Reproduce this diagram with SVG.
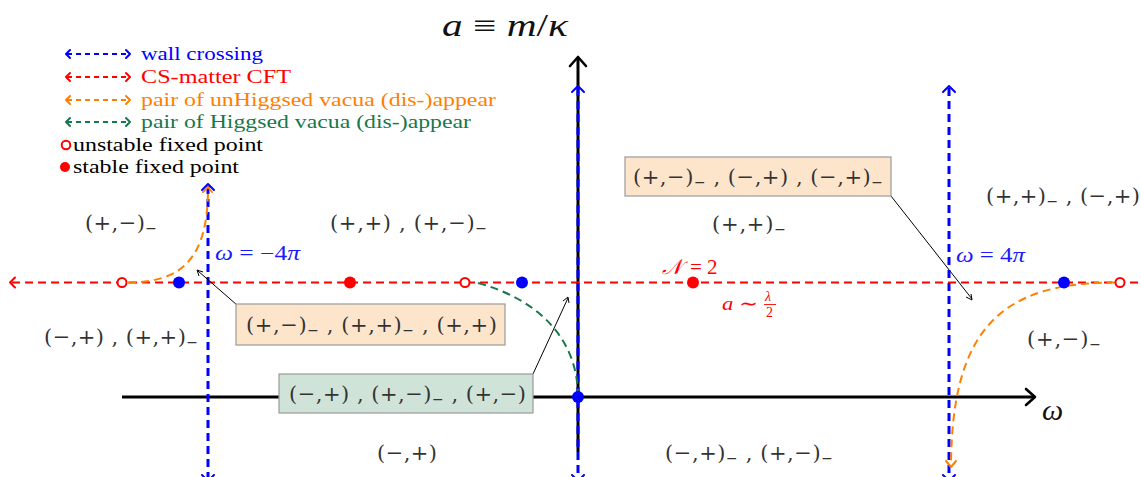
<svg xmlns="http://www.w3.org/2000/svg" width="1141" height="477" viewBox="0 0 1141 477">
<style>
.t{font-family:"Liberation Serif","DejaVu Serif",serif}
.m{font-family:"DejaVu Serif","Liberation Serif",serif}
.leg{font-size:19px}
.reg{font-size:21px;fill:#333}
.box{font-size:21px;fill:#333}
.it{font-style:italic}
.blue{stroke:#0000ff}
.red{stroke:#ff0000}
.org{stroke:#ff8000}
.grn{stroke:#17784a}
.dash{fill:none;stroke-dasharray:8 5}
.head{fill:none;stroke-width:2;stroke-linecap:round;stroke-linejoin:round}
</style>
<rect width="1141" height="477" fill="#fff"/>

<g id="legend">
  <g stroke-width="2" fill="none">
    <line x1="67" y1="54" x2="128" y2="54" class="blue" stroke-dasharray="5 4"/>
    <path d="M70 50 L66 54 L70 58 M126 50 L130 54 L126 58" class="blue head" stroke-width="1.8"/>
    <line x1="67" y1="77" x2="128" y2="77" class="red" stroke-dasharray="5 4"/>
    <path d="M70 73 L66 77 L70 81 M126 73 L130 77 L126 81" class="red head" stroke-width="1.8"/>
    <line x1="67" y1="100" x2="128" y2="100" class="org" stroke-dasharray="5 4"/>
    <path d="M70 96 L66 100 L70 104 M126 96 L130 100 L126 104" class="org head" stroke-width="1.8"/>
    <line x1="67" y1="122" x2="128" y2="122" class="grn" stroke-dasharray="5 4"/>
    <path d="M70 118 L66 122 L70 126 M126 118 L130 122 L126 126" class="grn head" stroke-width="1.8"/>
  </g>
  <text class="t leg" x="141" y="60" fill="#0000ff" textLength="122" lengthAdjust="spacingAndGlyphs">wall crossing</text>
  <text class="t leg" x="141" y="83" fill="#ff0000" textLength="150" lengthAdjust="spacingAndGlyphs">CS-matter CFT</text>
  <text class="t leg" x="141" y="106" fill="#ff8000" textLength="355" lengthAdjust="spacingAndGlyphs">pair of unHiggsed vacua (dis-)appear</text>
  <text class="t leg" x="141" y="128" fill="#17784a" textLength="330" lengthAdjust="spacingAndGlyphs">pair of Higgsed vacua (dis-)appear</text>
  <circle cx="66" cy="145" r="4.3" fill="none" stroke="#ff0000" stroke-width="2"/>
  <text class="t leg" x="73" y="151" fill="#000" textLength="190" lengthAdjust="spacingAndGlyphs">unstable fixed point</text>
  <circle cx="65" cy="167" r="5" fill="#ff0000"/>
  <text class="t leg" x="73" y="173" fill="#000" textLength="166" lengthAdjust="spacingAndGlyphs">stable fixed point</text>
</g>

<g id="axes">
  <line x1="122" y1="397" x2="1034" y2="397" stroke="#000" stroke-width="3"/>
  <path d="M1026 389 L1035 397 L1026 405" fill="none" stroke="#000" stroke-width="2.6" stroke-linecap="round" stroke-linejoin="round"/>
  <line x1="578" y1="452" x2="578" y2="58" stroke="#000" stroke-width="3"/>
  <path d="M570 66 L578 57 L586 66" fill="none" stroke="#000" stroke-width="2.6" stroke-linecap="round" stroke-linejoin="round"/>
  <text class="t" x="442" y="36" font-size="31" fill="#111" textLength="126" lengthAdjust="spacingAndGlyphs"><tspan class="it">a</tspan> ≡ <tspan class="it">m</tspan>/<tspan class="it">κ</tspan></text>
  <text class="t it" x="1042" y="420" font-size="30" fill="#111">ω</text>
</g>

<g id="connectors">
  <line x1="12" y1="282.5" x2="1141" y2="282.5" class="red dash" stroke-width="2"/>
  <path d="M15 277.5 L10 282.5 L15 287.5" class="red head"/>
  <line x1="208" y1="186" x2="208" y2="480" class="blue dash" stroke-width="3"/>
  <path d="M202 190 L208 184 L214 190" class="blue head" stroke-width="2.4"/>
  <path d="M202 475 L208 481 L214 475" class="blue head" stroke-width="2.4"/>
  <line x1="578" y1="88" x2="578" y2="480" class="blue dash" stroke-width="3"/>
  <path d="M572 92 L578 86 L584 92" class="blue head" stroke-width="2.4"/>
  <path d="M572 475 L578 481 L584 475" class="blue head" stroke-width="2.4"/>
  <line x1="949" y1="88" x2="949" y2="480" class="blue dash" stroke-width="3"/>
  <path d="M943 92 L949 86 L955 92" class="blue head" stroke-width="2.4"/>
  <path d="M943 475 L949 481 L955 475" class="blue head" stroke-width="2.4"/>
  <path d="M128 282.5 C185 282.5 208 255 208 188" class="org dash" stroke-width="2"/>
  <path d="M203 192 L208 187 L212 192" class="org head" stroke-width="1.6"/>
  <path d="M1115 282.5 C1000 282.5 952 330 951 465" class="org dash" stroke-width="2"/>
  <path d="M946 461 L951 467 L956 461" class="org head" stroke-width="1.6"/>
  <path d="M478 283 C540 300 578 340 578 397" class="grn dash" stroke-width="2"/>
  <g stroke="#000" stroke-width="1" fill="none">
    <line x1="237" y1="305" x2="198" y2="271"/>
    <path d="M199 276 L197 270 L203 272"/>
    <line x1="533" y1="374" x2="568" y2="298"/>
    <path d="M563 301 L568 297 L569 303"/>
    <line x1="891" y1="196" x2="972" y2="299"/>
    <path d="M966 297 L972 300 L971 294"/>
  </g>
</g>

<g id="points">
  <circle cx="122" cy="282.5" r="4.5" fill="#fff" stroke="#ff0000" stroke-width="2"/>
  <circle cx="465" cy="282.5" r="4.5" fill="#fff" stroke="#ff0000" stroke-width="2"/>
  <circle cx="1120" cy="282.5" r="4.5" fill="#fff" stroke="#ff0000" stroke-width="2"/>
  <circle cx="179" cy="282.5" r="6" fill="#0000ff"/>
  <circle cx="522" cy="282.5" r="6" fill="#0000ff"/>
  <circle cx="1064" cy="282.5" r="6" fill="#0000ff"/>
  <circle cx="578" cy="397" r="6" fill="#0000ff"/>
  <circle cx="350" cy="282.5" r="6" fill="#ff0000"/>
  <circle cx="693" cy="282.5" r="6" fill="#ff0000"/>
</g>

<g id="labels">
  <text class="t" x="215" y="260" font-size="20" fill="#1a1aff" textLength="85" lengthAdjust="spacingAndGlyphs"><tspan class="it">ω</tspan> = −4<tspan class="it">π</tspan></text>
  <text class="t" x="956" y="262" font-size="20" fill="#1a1aff" textLength="69" lengthAdjust="spacingAndGlyphs"><tspan class="it">ω</tspan> = 4<tspan class="it">π</tspan></text>
  <text class="t" x="662" y="274" font-size="21" fill="#ff0000"><tspan class="it">𝒩</tspan><tspan x="690">= 2</tspan></text>
  <text class="t" x="722" y="310" font-size="19" fill="#ff0000" textLength="36" lengthAdjust="spacingAndGlyphs"><tspan class="it">a</tspan> ∼</text>
  <text class="t it" x="765" y="301" font-size="14" fill="#ff0000">λ</text>
  <line x1="764" y1="304.5" x2="776" y2="304.5" stroke="#ff0000" stroke-width="0.9"/>
  <text class="t" x="766" y="317" font-size="14" fill="#ff0000">2</text>
</g>

<g id="regions">
  <text class="m reg" x="85" y="230" textLength="72">(+,−)<tspan font-size="14" dy="3">−</tspan></text>
  <text class="m reg" x="330" y="230" textLength="157">(+,+) , (+,−)<tspan font-size="14" dy="3">−</tspan></text>
  <text class="m reg" x="712" y="231" textLength="74">(+,+)<tspan font-size="14" dy="3">−</tspan></text>
  <text class="m reg" x="986" y="203" textLength="154">(+,+)<tspan font-size="14" dy="3">−</tspan><tspan dy="-3"> , (−,+)</tspan></text>
  <text class="m reg" x="44" y="344" textLength="154">(−,+) , (+,+)<tspan font-size="14" dy="3">−</tspan></text>
  <text class="m reg" x="1027" y="346" textLength="74">(+,−)<tspan font-size="14" dy="3">−</tspan></text>
  <text class="m reg" x="377" y="460" textLength="60">(−,+)</text>
  <text class="m reg" x="665" y="460" textLength="168">(−,+)<tspan font-size="14" dy="3">−</tspan><tspan dy="-3"> , (+,−)</tspan><tspan font-size="14" dy="3">−</tspan></text>
</g>

<g id="box1">
  <rect x="236" y="304" width="269" height="41" fill="#fde5cc" stroke="#9a9a9a" stroke-width="1.2"/>
  <text class="m box" x="246" y="332" textLength="251">(+,−)<tspan font-size="14" dy="3">−</tspan><tspan dy="-3"> , (+,+)</tspan><tspan font-size="14" dy="3">−</tspan><tspan dy="-3"> , (+,+)</tspan></text>
</g>
<g id="box2">
  <rect x="279" y="374" width="254" height="39" fill="#cfe3d9" stroke="#9a9a9a" stroke-width="1.2"/>
  <text class="m box" x="289" y="401" textLength="237">(−,+) , (+,−)<tspan font-size="14" dy="3">−</tspan><tspan dy="-3"> , (+,−)</tspan></text>
</g>
<g id="box3">
  <rect x="625" y="157" width="266" height="39" fill="#fde5cc" stroke="#9a9a9a" stroke-width="1.2"/>
  <text class="m box" x="633" y="184" textLength="250">(+,−)<tspan font-size="14" dy="3">−</tspan><tspan dy="-3"> , (−,+) , (−,+)</tspan><tspan font-size="14" dy="3">−</tspan></text>
</g>
</svg>
